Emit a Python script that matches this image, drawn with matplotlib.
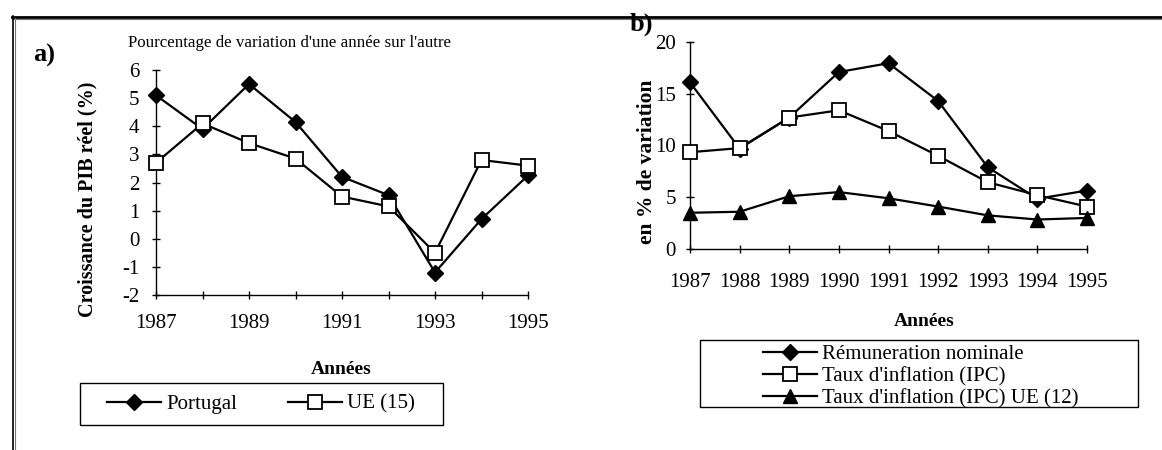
import matplotlib

matplotlib.use("Agg")
import matplotlib.pyplot as plt
from matplotlib.lines import Line2D
from matplotlib.patches import Rectangle

W, H = 1162, 450

years = [1987, 1988, 1989, 1990, 1991, 1992, 1993, 1994, 1995]

# panel a: real GDP growth (%)
portugal = [5.1, 3.9, 5.5, 4.15, 2.2, 1.55, -1.2, 0.7, 2.25]
ue15 = [2.7, 4.1, 3.4, 2.85, 1.5, 1.15, -0.5, 2.8, 2.6]

# panel b: % change
remuneration = [16.1, 9.7, 12.7, 17.1, 17.95, 14.3, 7.9, 4.85, 5.65]
inflation_ipc = [9.35, 9.75, 12.7, 13.4, 11.4, 9.0, 6.45, 5.2, 4.1]
inflation_ue12 = [3.5, 3.6, 5.1, 5.5, 4.9, 4.1, 3.25, 2.85, 3.0]

a_yticks = [-2, -1, 0, 1, 2, 3, 4, 5, 6]
a_xlabels = ["1987", "", "1989", "", "1991", "", "1993", "", "1995"]
b_yticks = [0, 5, 10, 15, 20]


def fx(x):
    return x / W


def fy(y):
    return 1 - y / H


def style_axes(ax):
    for side in ("top", "right"):
        ax.spines[side].set_visible(False)
    for side in ("left", "bottom"):
        ax.spines[side].set_linewidth(1.0)
    ax.tick_params(direction="inout", length=6, width=1.0, labelsize=15)


plt.rcParams.update({
    "font.family": ["Liberation Serif", "DejaVu Serif"],
    "axes.unicode_minus": False,
})

fig = plt.figure(figsize=(W / 100, H / 100), dpi=100)

line_kw = dict(color="black", linewidth=1.6, clip_on=False, zorder=3)
diamond = dict(marker="D", markersize=8.5, markerfacecolor="black", markeredgecolor="black")
square = dict(marker="s", markersize=10, markerfacecolor="white", markeredgecolor="black",
              markeredgewidth=1.3)
triangle = dict(marker="^", markersize=10, markerfacecolor="black", markeredgecolor="black")

# ---- panel a
ax_a = fig.add_axes([fx(156), fy(295), fx(528) - fx(156), fy(70) - fy(295)])
h_pt, = ax_a.plot(years, portugal, label="Portugal", **line_kw, **diamond)
h_ue, = ax_a.plot(years, ue15, label="UE (15)", **line_kw, **square)
ax_a.set_xlim(1987, 1995)
ax_a.set_ylim(-2, 6)
ax_a.set_yticks(a_yticks)
ax_a.set_xticks(years)
ax_a.set_xticklabels(a_xlabels)
style_axes(ax_a)
ax_a.tick_params(axis="x", pad=11)
ax_a.tick_params(axis="y", pad=9)

fig.text(fx(87), fy(199), "Croissance du PIB réel (%)", rotation=90, ha="center", va="center",
         fontsize=14.5, fontweight="bold")
fig.text(fx(128), fy(47), "Pourcentage de variation d'une année sur l'autre",
         fontsize=12.2, va="baseline", ha="left")
fig.text(fx(33), fy(62), "a)", fontsize=19, fontweight="bold", va="baseline", ha="left")
fig.text(fx(341), fy(369), "Années", fontsize=14, fontweight="bold", ha="center", va="center")

fig.add_artist(Rectangle((fx(80), fy(425)), fx(443) - fx(80), fy(383) - fy(425),
                         transform=fig.transFigure, fill=False, edgecolor="black", linewidth=1.0))
fig.legend(handles=[h_pt, h_ue], loc="center", bbox_to_anchor=(fx(261), fy(404)),
           ncol=2, frameon=False, fontsize=15, handlelength=2.6, handletextpad=0.25,
           columnspacing=2.4, borderpad=0)

# ---- panel b
ax_b = fig.add_axes([fx(690), fy(249), fx(1087) - fx(690), fy(42) - fy(249)])
h_rem, = ax_b.plot(years, remuneration, label="Rémuneration nominale", **line_kw, **diamond)
h_ipc, = ax_b.plot(years, inflation_ipc, label="Taux d'inflation (IPC)", **line_kw, **square)
h_ue12, = ax_b.plot(years, inflation_ue12, label="Taux d'inflation (IPC) UE (12)",
                    **line_kw, **triangle)
ax_b.set_xlim(1987, 1995)
ax_b.set_ylim(0, 20)
ax_b.set_yticks(b_yticks)
ax_b.set_xticks(years)
style_axes(ax_b)
ax_b.tick_params(axis="x", pad=14)
ax_b.tick_params(axis="y", pad=7)
fig.text(fx(647), fy(162), "en % de variation", rotation=90, ha="center", va="center",
         fontsize=15.5, fontweight="bold")
fig.text(fx(630), fy(31), "b)", fontsize=19, fontweight="bold", va="baseline", ha="left")
fig.text(fx(924), fy(322), "Années", fontsize=14, fontweight="bold", ha="center", va="center")

fig.add_artist(Rectangle((fx(700), fy(407)), fx(1138) - fx(700), fy(340) - fy(407),
                         transform=fig.transFigure, fill=False, edgecolor="black", linewidth=1.0))
fig.legend(handles=[h_rem, h_ipc, h_ue12], loc="center", bbox_to_anchor=(fx(921), fy(376.5)),
           ncol=1, frameon=False, fontsize=15, handlelength=2.6, handletextpad=0.25,
           labelspacing=0.12, borderpad=0)

# ---- outer frame
fig.add_artist(Line2D([fx(12), 1], [fy(16.5), fy(16.5)], transform=fig.transFigure,
                      color="black", linewidth=2.0))
fig.add_artist(Line2D([fx(12), 1], [fy(19), fy(19)], transform=fig.transFigure,
                      color="#777777", linewidth=0.8))
fig.add_artist(Line2D([fx(12.5), fx(12.5)], [fy(16), 0], transform=fig.transFigure,
                      color="black", linewidth=1.2))
fig.add_artist(Line2D([fx(15), fx(15)], [fy(18), 0], transform=fig.transFigure,
                      color="#777777", linewidth=0.8))

fig.savefig("out.png", dpi=100)
